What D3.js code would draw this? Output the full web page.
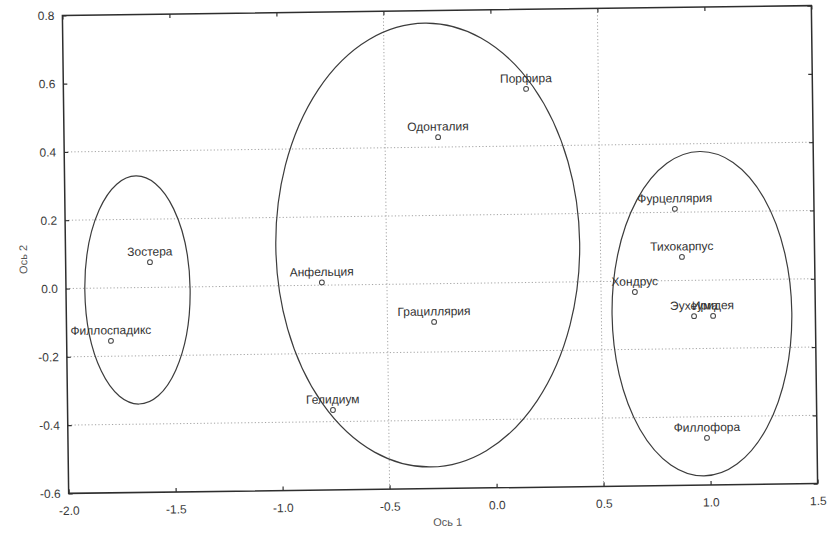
<!DOCTYPE html>
<html>
<head>
<meta charset="utf-8">
<script src="https://cdn.jsdelivr.net/npm/d3@7"></script>
<style>
  html, body { margin: 0; padding: 0; background: #fff; }
  svg { display: block; }
  text { font-family: "Liberation Sans", Arial, sans-serif; }
</style>
</head>
<body>
<svg id="chart" width="838" height="533"></svg>
<script>
// ---- data ----
const names = ["Зостера", "Филлоспадикс", "Анфельция", "Гелидиум", "Грациллярия", "Одонталия",
               "Порфира", "Фурцеллярия", "Тихокарпус", "Хондрус", "Эухеума", "Иридея", "Филлофора"];
const axis1 = [-1.606, -1.793, -0.804, -0.760, -0.282, -0.252, 0.162, 0.850, 0.880, 0.658, 0.933, 1.022, 0.986];
const axis2 = [0.074, -0.155, 0.008, -0.366, -0.112, 0.429, 0.567, 0.210, 0.069, -0.032, -0.105, -0.105, -0.462];

// cluster ellipses
const ellCx = [-1.666, -0.307, 0.970];
const ellCy = [-0.007, 0.1135, -0.098];
const ellRx = [0.246, 0.710, 0.420];
const ellRy = [0.334, 0.650, 0.475];

const xTicks = [-2.0, -1.5, -1.0, -0.5, 0.0, 0.5, 1.0, 1.5];
const yTicks = [-0.6, -0.4, -0.2, 0.0, 0.2, 0.4, 0.6, 0.8];
const xGrid = [-0.5, 0.5];
const yGrid = [-0.4, -0.2, 0.0, 0.2, 0.4];
const xTitle = "Ось 1";
const yTitle = "Ось 2";

// ---- layout ----
const L = 65.5, R = 814.5, T = 10.5, B = 488.5;
const x = d3.scaleLinear().domain([-2, 1.5]).range([L, R]);
const y = d3.scaleLinear().domain([-0.6, 0.8]).range([B, T]);
const fmt = d => d.toFixed(1);

const svg = d3.select("#chart");
const g = svg.append("g").attr("transform", "rotate(-0.75, 440, 249.5)");

// grid
g.append("g").selectAll("line").data(yGrid).join("line")
  .attr("x1", L).attr("x2", R).attr("y1", d => y(d)).attr("y2", d => y(d))
  .attr("stroke", "#9a9a9a").attr("stroke-width", 0.9).attr("stroke-dasharray", "1.2,2.2");
g.append("g").selectAll("line").data(xGrid).join("line")
  .attr("y1", T).attr("y2", B).attr("x1", d => x(d)).attr("x2", d => x(d))
  .attr("stroke", "#9a9a9a").attr("stroke-width", 0.9).attr("stroke-dasharray", "1.2,2.2");

// axes (inward ticks)
const styleAxis = sel => {
  sel.select(".domain").remove();
  sel.selectAll(".tick line").attr("stroke", "#333").attr("stroke-width", 1.2);
  sel.selectAll(".tick text").attr("fill", "#3a3a3a").style("font-size", "12px")
     .style("font-family", "'Liberation Sans', Arial, sans-serif");
};
g.append("g").attr("transform", `translate(0,${B})`)
  .call(d3.axisBottom(x).tickValues(xTicks).tickFormat(fmt).tickSizeInner(-4).tickSizeOuter(0).tickPadding(13))
  .call(styleAxis);
g.append("g").attr("transform", `translate(${L},0)`)
  .call(d3.axisLeft(y).tickValues(yTicks).tickFormat(fmt).tickSizeInner(-4).tickSizeOuter(0).tickPadding(8))
  .call(styleAxis);
g.append("g").attr("transform", `translate(0,${T})`)
  .call(d3.axisTop(x).tickValues(xTicks).tickFormat("").tickSizeInner(-4).tickSizeOuter(0))
  .call(styleAxis);
g.append("g").attr("transform", `translate(${R},0)`)
  .call(d3.axisRight(y).tickValues(yTicks).tickFormat("").tickSizeInner(-4).tickSizeOuter(0))
  .call(styleAxis);

// frame
g.append("rect").attr("x", L).attr("y", T).attr("width", R - L).attr("height", B - T)
  .attr("fill", "none").attr("stroke", "#2e2e2e").attr("stroke-width", 1.5);

// ellipses
g.append("g").selectAll("ellipse").data(ellCx).join("ellipse")
  .attr("cx", (d, i) => x(ellCx[i]))
  .attr("cy", (d, i) => y(ellCy[i]))
  .attr("rx", (d, i) => x(ellRx[i]) - x(0))
  .attr("ry", (d, i) => y(0) - y(ellRy[i]))
  .attr("fill", "none").attr("stroke", "#3c3c3c").attr("stroke-width", 1.2);

// points
const pts = names.map((n, i) => ({ n, a: axis1[i], b: axis2[i] }));
g.append("g").selectAll("circle").data(pts).join("circle")
  .attr("cx", d => x(d.a)).attr("cy", d => y(d.b)).attr("r", 2.4)
  .attr("fill", "#fff").attr("stroke", "#444").attr("stroke-width", 1);
g.append("g").selectAll("text").data(pts).join("text")
  .attr("x", d => x(d.a)).attr("y", d => y(d.b) - 6.5)
  .attr("text-anchor", "middle").attr("fill", "#333")
  .style("font-size", "12px").text(d => d.n);

// axis titles
g.append("text").attr("x", 444).attr("y", 526).attr("text-anchor", "middle")
  .attr("fill", "#555").style("font-size", "11px").text(xTitle);
g.append("text").attr("transform", "translate(27,254) rotate(-90)").attr("text-anchor", "middle")
  .attr("fill", "#555").style("font-size", "11px").text(yTitle);
</script>
</body>
</html>
